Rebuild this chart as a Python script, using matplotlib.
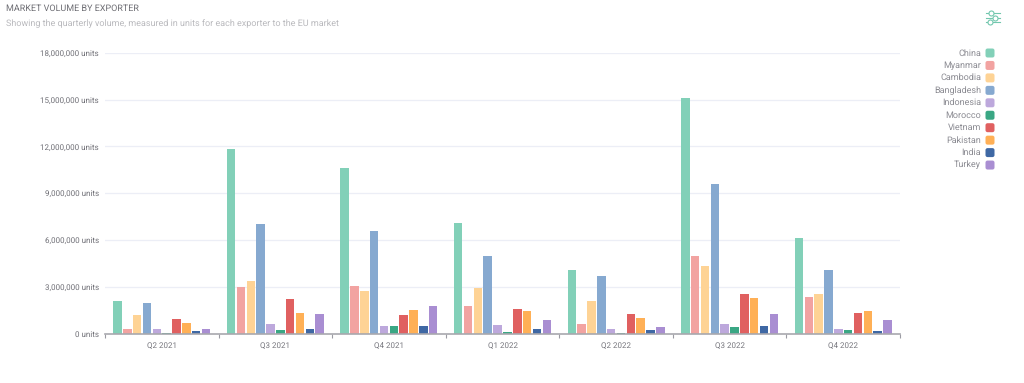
import numpy as np
import matplotlib
matplotlib.use('Agg')
import matplotlib.pyplot as plt
from matplotlib.lines import Line2D
from matplotlib.patches import FancyBboxPatch

quarters = ['Q2 2021', 'Q3 2021', 'Q4 2021', 'Q1 2022', 'Q2 2022', 'Q3 2022', 'Q4 2022']
exporters = ['China', 'Myanmar', 'Cambodia', 'Bangladesh', 'Indonesia',
             'Morocco', 'Vietnam', 'Pakistan', 'India', 'Turkey']
colors = ['#82d0b8', '#f2a3a1', '#fed395', '#86a9d0', '#bda8dc',
          '#3aa784', '#e06060', '#ffb056', '#3f68a4', '#a98ed2']

china = [2.1, 11.85, 10.6, 7.1, 4.1, 15.1, 6.1]
myanmar = [0.28, 2.98, 3.05, 1.75, 0.62, 5.0, 2.35]
cambodia = [1.2, 3.35, 2.75, 2.9, 2.1, 4.35, 2.55]
bangladesh = [1.97, 7.05, 6.55, 4.97, 3.68, 9.6, 4.05]
indonesia = [0.3, 0.6, 0.5, 0.55, 0.3, 0.58, 0.28]
morocco = [0.05, 0.22, 0.45, 0.1, 0.03, 0.4, 0.25]
vietnam = [0.95, 2.23, 1.2, 1.57, 1.22, 2.55, 1.3]
pakistan = [0.68, 1.3, 1.5, 1.47, 1.0, 2.25, 1.42]
india = [0.13, 0.32, 0.48, 0.3, 0.22, 0.45, 0.18]
turkey = [0.3, 1.27, 1.75, 0.88, 0.42, 1.28, 0.87]
series = [china, myanmar, cambodia, bangladesh, indonesia,
          morocco, vietnam, pakistan, india, turkey]

yticks = [0, 3000000, 6000000, 9000000, 12000000, 15000000, 18000000]

plt.rcParams['font.family'] = ['Roboto', 'DejaVu Sans']
plt.rcParams['text.hinting'] = 'no_hinting'
plt.rcParams['text.hinting_factor'] = 1

W, H = 1024, 383
fig = plt.figure(figsize=(W / 100, H / 100), dpi=100, facecolor='white')


def fx(px):
    return px / W


def fy(py):
    return 1 - py / H


# plot area in pixels: x 105-900, y 53-333.5
ax = fig.add_axes([fx(105), fy(333.5), fx(795), (333.5 - 53) / H])

bar_step = 0.0867
x = np.arange(len(quarters))
for i, name in enumerate(exporters):
    vals = np.array(series[i]) * 1e6
    ax.bar(x + (i - 4.5) * bar_step, vals, width=bar_step * 0.86, color=colors[i],
           linewidth=0, zorder=3, label=name)

ax.set_xlim(-0.5, 6.5)
ax.set_ylim(0, 18000000)
ax.set_yticks(yticks)
ax.set_yticklabels(['{:,} units'.format(v) for v in yticks], fontsize=6.05, color='#6f6f76')
ax.set_xticks(x)
ax.set_xticklabels(quarters, fontsize=6.05, color='#77777e')
ax.set_xticks(np.arange(-0.5, 7), minor=True)
ax.tick_params(axis='y', length=0, pad=4.5)
ax.tick_params(axis='x', which='major', length=0, pad=6.5)
ax.tick_params(axis='x', which='minor', length=3, width=0.8, color='#9b9ba3')
ax.grid(axis='y', color='#eceef6', linewidth=0.9, zorder=0)
ax.set_axisbelow(True)
for s in ['top', 'right', 'left']:
    ax.spines[s].set_visible(False)
ax.spines['bottom'].set_color('#a8a8ae')
ax.spines['bottom'].set_linewidth(1.2)
ax.spines['bottom'].set_zorder(4)

# titles
fig.text(fx(6), fy(8), 'MARKET VOLUME BY EXPORTER', fontsize=6.75, color='#6e6e74', va='center')
fig.text(fx(6), fy(23.5), 'Showing the quarterly volume, measured in units for each exporter to the EU market',
         fontsize=6.68, color='#b9b9bd', va='center')

# legend, right aligned text with rounded swatches
for i, name in enumerate(exporters):
    yc = 53 + i * 12.45
    fig.text(fx(981), fy(yc), name, fontsize=6.2, color='#8b8b92', ha='right', va='center')
    fig.add_artist(FancyBboxPatch((fx(985.5), fy(yc + 4.5)), fx(9), 9 / H,
                                  boxstyle='round,pad=0,rounding_size=0.002',
                                  mutation_aspect=W / H, linewidth=0,
                                  facecolor=colors[i], transform=fig.transFigure))

# filter icon top right
icon = '#72c7ae'
for py, cx in [(13, 990.5), (17.5, 995), (22, 989.5)]:
    fig.add_artist(Line2D([fx(985.5), fx(999.5)], [fy(py), fy(py)], color=icon, lw=0.8,
                          transform=fig.transFigure))
    fig.add_artist(Line2D([fx(cx)], [fy(py)], marker='o', ms=3.6, mfc='white', mec=icon, mew=0.8,
                          transform=fig.transFigure))

fig.savefig('out.png', dpi=100)
plt.close()
